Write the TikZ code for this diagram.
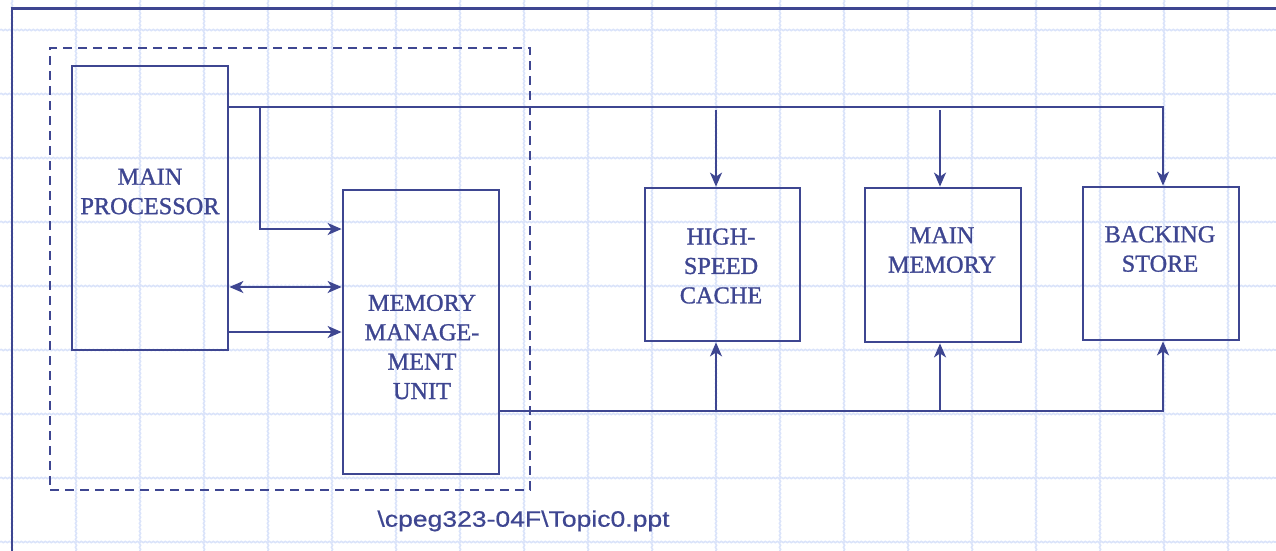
\documentclass[tikz,border=0pt]{standalone}
\usepackage{fontspec}
\setmainfont[FakeBold=1.2]{Liberation Serif}
\newfontfamily\footfont[FakeStretch=1.19,FakeBold=0.6]{Liberation Sans}
\usetikzlibrary{arrows.meta,decorations.pathmorphing,positioning,calc}
\definecolor{ink}{RGB}{62,70,145}
\definecolor{gridc}{RGB}{218,227,250}
\tikzset{
  gridline/.style={draw=gridc,line width=1.6pt,decorate,decoration={snake,amplitude=0.6pt,segment length=4pt}},
  box/.style={draw=ink,line width=2.8pt,inner sep=0pt,rectangle},
  lbl/.style={text=ink,align=center,font=\fontsize{24.3}{29.4}\selectfont,inner sep=0pt},
  conn/.style={draw=ink,line width=2.1pt},
  tip/.tip={Stealth[length=14pt,width=12pt,inset=4pt]},
  arr/.style={conn,-tip},
  arrboth/.style={conn,tip-tip},
  grp/.style={draw=ink,line width=2.1pt,dash pattern=on 9pt off 6pt,inner sep=0pt,rectangle},
}
\begin{document}
\begin{tikzpicture}[x=1pt,y=-1pt]
\useasboundingbox (0,0) rectangle (1276,551);
% grid
\foreach \x in {12,76,...,1240} \draw[gridline] (\x,0) -- (\x,551);
\foreach \y in {30,94,...,550} \draw[gridline] (0,\y) -- (1276,\y);
% frame
\draw[ink,line width=2.2pt] (1276,8.5) -- (12,8.5) -- (12,551);
% dashed group
\node[grp,minimum width=480pt,minimum height=442pt] (group) at (290,269) {};
% boxes
\node[box,minimum width=156pt,minimum height=284pt] (proc) at (150,208) {};
\node[box,minimum width=156pt,minimum height=284pt] (mmu) at (421,332) {};
\node[box,minimum width=155pt,minimum height=153pt] (cache) at (722.5,264.5) {};
\node[box,minimum width=156pt,minimum height=154pt] (mem) at (943,265) {};
\node[box,minimum width=156pt,minimum height=153pt] (back) at (1161,263.5) {};
% labels
\node[lbl] (proct) at (150,191.5) {MAIN\\PROCESSOR};
\node[lbl] (mmut) at (422,347) {MEMORY\\MANAGE-\\MENT\\UNIT};
\node[lbl] (cachet) at (721,266) {HIGH-\\SPEED\\CACHE};
\node[lbl] (memt) at (942,250) {MAIN\\MEMORY};
\node[lbl] (backt) at (1160,249) {BACKING\\STORE};
\node[text=ink,font=\footfont\fontsize{22.3}{24}\selectfont,inner sep=0pt,anchor=base] (foot) at (523.5,526.7) {\textbackslash cpeg323-04F\textbackslash Topic0.ppt};
% top bus
\coordinate (t0) at ($(proc.north east)+(0,42)$);
\draw[arr] (t0) -| (1163,0 |- back.north);
\draw[arr] (716,110) -- (716,0 |- cache.north);
\draw[arr] (940,110) -- (940,0 |- mem.north);
\draw[arr] (260,108) |- (mmu.west |- 0,229);
\draw[arrboth] (proc.east |- 0,287) -- (mmu.west |- 0,287);
\draw[arr] (proc.east |- 0,332) -- (mmu.west |- 0,332);
% bottom bus
\coordinate (b0) at (mmu.east |- 0,411);
\draw[arr] (b0) -| (1163,0 |- back.south);
\draw[arr] (716,411) -- (716,0 |- cache.south);
\draw[arr] (940,411) -- (940,0 |- mem.south);
\end{tikzpicture}
\end{document}
